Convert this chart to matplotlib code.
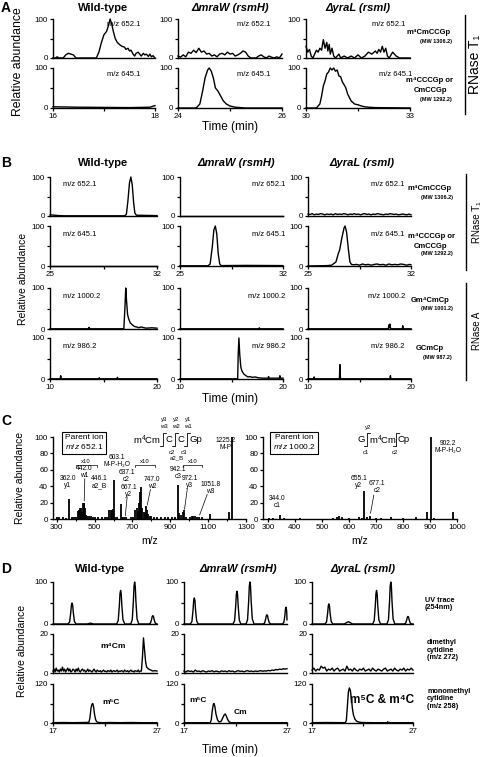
import numpy as np
import matplotlib
matplotlib.use("Agg")
import matplotlib.pyplot as plt
from matplotlib.lines import Line2D

# ---------------- data ----------------
# Panel A, row 1: m/z 652.1
a_wt_652_t = [16.0, 16.05, 16.08, 16.12, 16.2, 16.25, 16.3, 16.35, 16.4, 16.45, 16.85, 16.9, 16.95, 17.0,
              17.05, 17.08, 17.12, 17.15, 17.18, 17.22, 17.26, 17.3, 17.35, 17.4, 17.43, 17.47, 17.5, 17.53,
              17.57, 17.6, 17.63, 17.67, 17.7, 17.73, 17.77, 17.8, 17.83, 17.87, 17.9, 17.93, 17.96, 18.0]
a_wt_652_y = [0, 0, 3, 0, 0, 8, 12, 10, 8, 0, 0, 15, 40, 60, 68, 80, 100, 88, 70, 50, 40, 35, 30, 28, 22,
              25, 18, 20, 10, 5, 12, 15, 10, 5, 12, 8, 10, 4, 10, 3, 6, 0]
a_mra_652_t = [24.0, 24.05, 24.1, 24.15, 24.2, 24.25, 24.3, 24.35, 24.4, 24.45, 24.5, 24.55, 24.6, 24.65,
               24.7, 24.75, 24.8, 24.85, 24.9, 24.95, 25.0, 25.05, 25.1, 25.15, 25.2, 25.25, 25.3, 25.35,
               25.4, 25.5, 25.55, 25.6, 25.65, 25.7, 25.75, 25.8, 25.85, 25.9, 25.95, 26.0]
a_mra_652_y = [5, 2, 8, 3, 15, 12, 20, 14, 25, 15, 18, 10, 12, 5, 8, 3, 10, 12, 8, 15, 10, 12, 5, 8, 12,
               18, 15, 5, 0, 0, 5, 8, 3, 0, 5, 2, 0, 3, 0, 10]
a_yra_652_t = [30.0, 30.05, 30.1, 30.15, 30.2, 30.25, 30.3, 30.35, 30.4, 30.45, 30.5, 30.55, 30.6, 30.63,
               30.67, 30.7, 30.75, 30.8, 30.85, 30.95, 31.0, 31.1, 31.2, 31.3, 31.4, 31.5, 31.6, 31.7,
               31.8, 31.9, 32.0, 32.05, 32.1, 32.15, 32.2, 32.25, 32.3, 32.35, 32.4, 32.5, 32.55, 32.6,
               32.7, 33.0]
a_yra_652_y = [30, 15, 22, 5, 0, 10, 20, 15, 25, 20, 47, 25, 40, 18, 35, 10, 25, 5, 0, 10, 0, 5, 0, 5, 0,
               8, 0, 5, 15, 10, 18, 12, 22, 15, 30, 15, 25, 5, 0, 15, 10, 5, 0, 0]
# Panel A, row 2: m/z 645.1
a_wt_645_t = [16.0, 16.5, 17.0, 17.5, 17.9, 18.0]
a_wt_645_y = [3, 2, 1.5, 1, 2, 6]
a_mra_645_t = [24.0, 24.35, 24.42, 24.47, 24.52, 24.57, 24.6, 24.64, 24.68, 24.72, 24.77, 24.82, 24.87,
               24.93, 25.0, 25.1, 25.3, 26.0]
a_mra_645_y = [0, 0, 10, 40, 75, 95, 100, 92, 75, 50, 42, 30, 18, 10, 5, 2, 0, 0]
a_yra_645_t = [30.0, 30.3, 30.4, 30.45, 30.5, 30.55, 30.6, 30.65, 30.7, 30.75, 30.8, 30.85, 30.9, 30.95,
               31.0, 31.05, 31.1, 31.15, 31.2, 31.3, 31.4, 31.5, 31.6, 31.7, 31.8, 32.0, 33.0]
a_yra_645_y = [0, 0, 10, 30, 55, 68, 85, 90, 100, 95, 100, 92, 95, 80, 78, 65, 58, 50, 35, 18, 10, 8, 5,
               3, 2, 1, 0]

# Panel B (RNase T1 rows: 25-32 min, RNase A rows: 10-20 min)
b_wt_652_t = [25, 25.3, 25.6, 26, 29.9, 30.0, 30.1, 30.2, 30.29, 30.38, 30.47, 30.55, 30.65, 32]
b_wt_652_y = [3, 2, 1, 0.5, 0.5, 5, 40, 85, 100, 80, 35, 8, 2, 1]
b_mra_652_t = [25, 32]
b_mra_652_y = [0.5, 0.5]
b_yra_652_y = [5, 4, 6, 3, 5, 4, 6, 5, 3, 5, 4, 5, 3, 6, 4, 5, 4, 6, 5, 3, 5, 4, 6, 4, 5, 3, 5, 6, 4, 5,
               3, 5, 4, 6, 5, 4, 3, 5, 4, 6, 5, 4, 5, 3, 4, 5, 4, 3, 5, 3]
b_wt_645_t = [25, 32]
b_wt_645_y = [0.5, 0.5]
b_mra_645_t = [25, 26.9, 27.05, 27.2, 27.3, 27.4, 27.5, 27.6, 27.7, 27.8, 29.5, 32]
b_mra_645_y = [0.5, 0.5, 5, 50, 90, 100, 80, 30, 5, 1, 1.5, 1]
b_yra_645_t = [25, 26.3, 26.6, 26.9, 27.05, 27.15, 27.3, 27.45, 27.52, 27.62, 27.75, 27.85, 27.95, 28.1,
               28.3, 28.5, 28.7, 28.9, 29.1, 29.3, 29.5, 29.7, 29.9, 30.1, 30.3, 30.5, 30.7, 30.9, 31.1,
               31.3, 31.5, 31.7, 31.9, 32.0]
b_yra_645_y = [0, 1, 2, 10, 30, 40, 70, 95, 100, 85, 40, 10, 4, 3, 4, 2, 5, 3, 4, 2, 4, 5, 3, 4, 2, 5, 3,
               4, 3, 5, 4, 2, 4, 3]
b_wt_1000_t = [10, 13.6, 13.65, 13.7, 16.9, 17.0, 17.08, 17.15, 17.25, 17.35, 17.5, 17.7, 17.9, 18.1,
               18.3, 18.5, 18.8, 19.0, 19.5, 20.0]
b_wt_1000_y = [0.5, 0.5, 4, 0.5, 0.5, 50, 100, 70, 35, 25, 15, 10, 6, 5, 3, 5, 3, 2, 3, 2]
b_mra_1000_t = [10, 17.65, 17.7, 17.75, 20]
b_mra_1000_y = [0.5, 0.5, 3, 0.5, 0.5]
b_yra_1000_t = [10, 17.8, 17.85, 17.9, 17.95, 18.0, 18.05, 19.15, 19.2, 19.25, 20]
b_yra_1000_y = [0.5, 0.5, 10, 3, 12, 4, 0.5, 0.5, 8, 0.5, 0.5]
b_wt_986_t = [10, 10.95, 11.0, 11.05, 14.55, 14.6, 14.65, 16.25, 16.3, 16.35, 20]
b_wt_986_y = [0.5, 0.5, 8, 0.5, 0.5, 3, 0.5, 0.5, 4, 0.5, 0.5]
b_mra_986_t = [10, 15.6, 15.65, 15.72, 15.8, 15.9, 16.0, 16.2, 16.4, 16.6, 16.8, 17.0, 17.3, 17.6, 18.0,
               18.55, 18.6, 18.65, 19.5, 19.65, 19.7, 19.75, 20]
b_mra_986_y = [0.5, 0.5, 60, 100, 60, 30, 20, 12, 8, 5, 6, 4, 5, 3, 2, 2, 6, 2, 2, 2, 8, 2, 2]
b_yra_986_t = [10, 10.55, 10.6, 10.65, 13.05, 13.1, 13.15, 17.95, 18.0, 18.05, 20]
b_yra_986_y = [0.5, 0.5, 5, 0.5, 0.5, 35, 0.5, 0.5, 8, 0.5, 0.5]

# Panel C, MS/MS spectra
c1_mz = [303, 312, 335, 347, 362, 380, 392, 404, 410, 416,
         422, 428, 434, 440, 443, 446, 450, 456, 462, 470,
         480, 490, 500, 520, 540, 555, 565, 578, 585, 590,
         596, 603, 610, 620, 637, 645, 656, 667, 690, 705,
         716, 722, 728, 735, 740, 747, 752, 760, 766, 772,
         778, 784, 790, 800, 815, 830, 850, 870, 890, 910,
         925, 942, 948, 958, 966, 972, 985, 1003, 1012, 1020,
         1030, 1040, 1051, 1065, 1112, 1210, 1225]
c1_int = [3, 2, 3, 1, 24, 2, 3, 3, 10, 11,
          13, 14, 8, 20, 19, 20, 14, 5, 4, 4,
          4, 3, 2, 2, 3, 2, 3, 11, 11, 11,
          12, 48, 3, 2, 18, 3, 2, 2, 3, 3,
          11, 13, 10, 20, 33, 39, 14, 8, 7, 16,
          11, 6, 4, 4, 3, 2, 3, 2, 2, 2,
          2, 42, 7, 5, 8, 11, 2, 3, 4, 4,
          4, 3, 3, 2, 6, 9, 100]
c2_mz = [305, 320, 344, 360, 420, 540, 555, 562, 575, 600, 636, 648, 655, 668, 677, 700, 720, 756, 800,
         850, 888, 902, 915, 985]
c2_int = [1, 1, 5, 1, 1, 1, 2, 4, 3, 1, 3, 1, 34, 2, 4, 1, 1, 2, 1, 3, 8, 100, 1, 8]

# Panel D, row 1: UV trace (254 nm)
d_wt_uv_t = [17.0, 18.45, 18.6, 18.71, 18.77, 18.83, 18.89, 18.95, 19.06, 19.22, 20.3, 20.5, 20.6, 20.7,
             20.9, 23.12, 23.27, 23.38, 23.44, 23.5, 23.56, 23.62, 23.73, 23.9, 24.47, 24.62, 24.73, 24.79,
             24.85, 24.91, 24.97, 25.08, 25.25, 26.22, 26.37, 26.48, 26.54, 26.6, 26.66, 26.72, 26.83,
             26.98, 27.0]
d_wt_uv_y = [0, 0, 5, 28, 45, 50, 45, 28, 6, 0, 0, 1.5, 2, 1.5, 0, 0, 8, 44, 72, 80, 72, 44, 10, 0, 0, 10,
             55, 90, 100, 90, 55, 12, 0, 0, 2, 11, 18, 20, 18, 11, 2, 0, 0]
d_mra_uv_t = [17.0, 17.62, 17.77, 17.88, 17.94, 18.0, 18.06, 18.12, 18.23, 18.38, 21.76, 21.91, 22.02,
              22.08, 22.14, 22.2, 22.26, 22.37, 22.52, 23.02, 23.17, 23.28, 23.34, 23.4, 23.46, 23.52,
              23.63, 23.8, 24.67, 24.82, 24.93, 24.99, 25.05, 25.11, 25.17, 25.28, 25.43, 26.55, 26.7,
              26.8, 26.85, 26.92, 26.97, 27.0]
d_mra_uv_y = [0, 0, 6, 34, 56, 62, 56, 34, 7, 0, 0, 8, 43, 70, 78, 70, 43, 9, 0, 0, 10, 55, 90, 100, 90,
              55, 12, 0, 0, 2, 12, 20, 22, 20, 12, 3, 0, 0, 4, 22, 36, 40, 30, 10]
d_yra_uv_t = [17.0, 18.29, 18.44, 18.55, 18.61, 18.67, 18.73, 18.79, 18.9, 19.06, 20.2, 20.4, 20.55,
              20.65, 20.8, 21.0, 23.01, 23.16, 23.27, 23.33, 23.39, 23.45, 23.51, 23.62, 23.78, 24.42,
              24.57, 24.68, 24.74, 24.8, 24.86, 24.92, 25.03, 25.2, 26.12, 26.27, 26.38, 26.44, 26.5,
              26.56, 26.62, 26.73, 26.88, 27.0]
d_yra_uv_y = [0, 0, 5, 26, 43, 48, 43, 26, 6, 0, 0, 3, 5, 5, 3, 0, 0, 8, 44, 72, 80, 72, 44, 10, 0, 0, 10,
              55, 90, 100, 90, 55, 12, 0, 0, 2, 10, 16, 18, 16, 10, 2, 0, 0]
# Panel D, row 2: dimethyl cytidine (m/z 272), noisy baselines sampled evenly
d_wt_272_noise = [1, 2, 0.5, 2.5, 1, 1.5, 0.5, 2, 1, 3, 1, 2, 0.5, 1.5, 2.5, 1, 2, 0.5, 1, 2, 1.5, 0.5, 2,
                  1, 2.5, 1, 0.5, 1.5, 2, 1, 1.5, 0.5, 1, 2, 0.8, 1.5, 1, 0.5, 1.2, 2, 1, 0.5, 1.5, 1,
                  0.8, 1.2, 0.5, 1, 1.5, 0.8, 1, 0.5, 1.2, 1, 0.8, 1.5, 0.5, 1, 1.2, 0.8, 1, 1.5, 0.5, 1,
                  0.8, 1.2, 1, 0.5, 1.5, 1, 0.8, 1.2, 0.5, 1, 1.5, 0.8, 1, 0.5, 1.2, 1, 0.8, 1.5, 0.5, 1]
d_wt_272_peak_t = [25.5, 25.6, 25.7, 25.8, 25.9, 26.0, 26.2, 26.4, 26.6, 26.8, 27.0]
d_wt_272_peak_y = [1, 8, 18, 12, 6, 3, 2, 1.5, 1, 1.2, 1]
d_mra_272_y = [1, 0.5, 1.2, 0.8, 1, 0.5, 1.5, 0.8, 1, 0.6, 1.2, 0.8, 0.5, 1, 0.8, 1.2, 0.6, 1, 0.8, 0.5,
               1.1, 0.8, 1, 0.6, 1.2, 0.8, 1, 0.5, 0.9, 1.2, 0.8, 1, 0.6, 1, 1.2, 0.8, 1, 0.7, 1, 0.8,
               1, 1.2, 0.9, 1.1, 1, 1.3, 1.1, 1.5, 1.3, 1.8, 1.6, 2, 1.8, 2.2, 2, 2.2]
d_yra_272_y = [1.5, 2.5, 1, 2, 1.5, 3.5, 2.5, 3, 1, 2, 1.5, 2.5, 1, 2, 2.5, 1, 1.5, 2, 1, 3.5, 1.5, 2, 1,
               2.5, 1.5, 1, 2, 1.5, 2.5, 1, 1.5, 2, 1, 2.5, 1.5, 1, 2, 1.5, 1, 2, 2.5, 1, 1.5, 2, 1,
               2.5, 1.5, 1, 2, 1.5, 2.5, 1, 2, 1.5, 2.5, 1.5]
# Panel D, row 3: monomethyl cytidine (m/z 258)
d_wt_258_t = [17.0, 18.0, 19.0, 20.0, 20.45, 20.55, 20.65, 20.75, 20.82, 20.9, 21.0, 21.1, 21.2, 21.35,
              21.6, 22.5, 23.5, 24.5, 25.5, 27.0]
d_wt_258_y = [1, 1.5, 1, 1.5, 2, 15, 45, 58, 60, 50, 25, 10, 4, 2, 1, 1.5, 1, 1.5, 1, 1]
d_mra_258_t = [17.0, 18.5, 19.55, 19.65, 19.75, 19.85, 19.92, 20.0, 20.1, 20.25, 20.4, 20.6, 20.75, 20.9,
               21.0, 21.1, 21.25, 21.4, 21.6, 23.0, 25.0, 27.0]
d_mra_258_y = [1, 1, 1, 10, 40, 58, 60, 50, 28, 10, 3, 5, 15, 25, 28, 22, 10, 3, 1, 1, 1, 1]
d_yra_258_t = [17.0, 18.5, 20.3, 20.4, 20.5, 20.6, 20.7, 20.8, 20.9, 21.0, 21.1, 21.25, 21.4, 21.6, 21.8,
               22.0, 23.0, 24.45, 24.5, 24.55, 25.5, 27.0]
d_yra_258_y = [1, 1.5, 1, 8, 50, 95, 108, 100, 75, 45, 25, 12, 6, 3, 2, 1.5, 1, 1, 4, 1, 1, 1]

strains = ["Wild-type", "\u0394mraW (rsmH)", "\u0394yraL (rsmI)"]

# ---------------- layout helpers (pixel coordinates) ----------------
W, H = 484, 757
plt.rcParams["font.family"] = ["Liberation Sans", "DejaVu Sans"]
plt.rcParams["mathtext.fontset"] = "custom"
plt.rcParams["mathtext.it"] = "Liberation Sans:italic"
plt.rcParams["mathtext.rm"] = "Liberation Sans"

fig = plt.figure(figsize=(W / 100, H / 100), dpi=100)

TICK = 5.8
MZ = 5.5
TITLE = 8
RLAB = 5.5
RMW = 4


def ftext(x, y, s, **kw):
    kw.setdefault("ha", "center")
    kw.setdefault("va", "center")
    fig.text(x / W, 1 - y / H, s, **kw)


def fline(xs, ys, lw=1.0):
    fig.add_artist(Line2D([x / W for x in xs], [1 - y / H for y in ys], color="k", lw=lw))


def mkax(box, xlim, ylim, xt, xtl, yt, ytl):
    x0, y0, x1, y1 = box
    ax = fig.add_axes([x0 / W, 1 - y1 / H, (x1 - x0) / W, (y1 - y0) / H])
    ax.set_xlim(xlim)
    ax.set_ylim(ylim)
    ax.patch.set_visible(False)
    for s in ["top", "right"]:
        ax.spines[s].set_visible(False)
    for s in ["left", "bottom"]:
        ax.spines[s].set_linewidth(1.0)
    ax.set_xticks(xt)
    ax.set_xticklabels(xtl)
    ax.set_yticks(yt)
    ax.set_yticklabels(ytl)
    ax.tick_params(labelsize=TICK, length=2.5, width=0.9, pad=1)
    return ax


def trace(ax, t, y):
    ax.plot(t, y, color="k", lw=1.0, clip_on=False)


def title(x, y, s, c):
    ftext(x, y, s, fontsize=TITLE, weight="bold", style="normal" if c == 0 else "italic")


# ---------------- Panel A ----------------
ftext(6, 8, "A", fontsize=10, weight="bold")
a_cols = [(53, 155), (178, 282), (306, 410)]
a_rows = [(19, 58), (68, 108)]
a_xlims = [(16, 18), (24, 26), (30, 33)]
a_xt = [[16, 17, 18], [24, 25, 26], [30, 31.5, 33]]
a_xtl = [["16", "", "18"], ["24", "", "26"], ["30", "", "33"]]
a_data = [
    [(a_wt_652_t, a_wt_652_y), (a_mra_652_t, a_mra_652_y), (a_yra_652_t, a_yra_652_y)],
    [(a_wt_645_t, a_wt_645_y), (a_mra_645_t, a_mra_645_y), (a_yra_645_t, a_yra_645_y)],
]
a_title_x = [103, 230, 358]
a_lab_x = [0.86, 0.89, 0.96]
for c, (x0, x1) in enumerate(a_cols):
    title(a_title_x[c], 8, strains[c], c)
    for r, (y0, y1) in enumerate(a_rows):
        last = r == 1
        ax = mkax((x0, y0, x1, y1), a_xlims[c], (0, 100),
                  a_xt[c] if last else [], a_xtl[c] if last else [],
                  [0, 50, 100], ["0", "", "100"])
        t, y = a_data[r][c]
        trace(ax, t, y)
        ax.text(a_lab_x[c] if not (r == 1 and c == 2) else 1.02, 0.85,
                "m/z 652.1" if r == 0 else "m/z 645.1",
                transform=ax.transAxes, ha="right", va="center", fontsize=MZ)
ftext(230, 127, "Time (min)", fontsize=8.5)
ftext(18, 62, "Relative abundance", fontsize=8.8, rotation=90)
ftext(429, 32, "m\u2074CmCCGp", fontsize=RLAB, weight="bold")
ftext(436, 42, "(MW 1306.2)", fontsize=RMW, weight="bold")
ftext(430, 81, "m\u2074CCCGp or", fontsize=RLAB, weight="bold")
ftext(430, 90, "CmCCGp", fontsize=RLAB, weight="bold")
ftext(436, 99, "(MW 1292.2)", fontsize=RMW, weight="bold")
fline([465, 465], [15, 114])
ftext(475, 64, "RNase T\u2081", fontsize=10, rotation=90)

# ---------------- Panel B ----------------
ftext(6, 163, "B", fontsize=10, weight="bold")
b_cols = [(50, 157), (180, 283), (308, 411)]
b_rows = [(177, 216), (226, 266), (288, 329), (338, 379)]
b_title_x = [103, 236, 362]
b_yra_652_t = np.linspace(25, 32, len(b_yra_652_y))
b_data = [
    [(b_wt_652_t, b_wt_652_y), (b_mra_652_t, b_mra_652_y), (b_yra_652_t, b_yra_652_y)],
    [(b_wt_645_t, b_wt_645_y), (b_mra_645_t, b_mra_645_y), (b_yra_645_t, b_yra_645_y)],
    [(b_wt_1000_t, b_wt_1000_y), (b_mra_1000_t, b_mra_1000_y), (b_yra_1000_t, b_yra_1000_y)],
    [(b_wt_986_t, b_wt_986_y), (b_mra_986_t, b_mra_986_y), (b_yra_986_t, b_yra_986_y)],
]
b_mz = ["m/z 652.1", "m/z 645.1", "m/z 1000.2", "m/z 986.2"]
for c, (x0, x1) in enumerate(b_cols):
    title(b_title_x[c], 163, strains[c], c)
    for r, (y0, y1) in enumerate(b_rows):
        if r < 2:
            xl, xt, xtl = (25, 32), [25, 28.5, 32], ["25", "", "32"]
        else:
            xl, xt, xtl = (10, 20), [10, 15, 20], ["10", "", "20"]
        show = r in (1, 3)
        ax = mkax((x0, y0, x1, y1), xl, (0, 100), xt, xtl if show else ["", "", ""],
                  [0, 50, 100], ["0", "", "100"])
        if not show:
            ax.tick_params(axis="x", length=0)
        t, y = b_data[r][c]
        trace(ax, t, y)
        if c == 0:
            ax.text(0.12, 0.8, b_mz[r], transform=ax.transAxes, ha="left", va="center", fontsize=MZ)
        elif c == 1:
            ax.text(1.02, 0.8, b_mz[r], transform=ax.transAxes, ha="right", va="center", fontsize=MZ)
        else:
            ax.text(0.94, 0.8, b_mz[r], transform=ax.transAxes, ha="right", va="center", fontsize=MZ)
ftext(230, 399, "Time (min)", fontsize=8.5)
ftext(23, 279, "Relative abundance", fontsize=7.5, rotation=90)
ftext(430, 189, "m\u2074CmCCGp", fontsize=RLAB, weight="bold")
ftext(437, 198, "(MW 1306.2)", fontsize=RMW, weight="bold")
ftext(431, 237, "m\u2074CCCGp or", fontsize=RLAB, weight="bold")
ftext(431, 246, "CmCCGp", fontsize=RLAB, weight="bold")
ftext(437, 254, "(MW 1292.2)", fontsize=RMW, weight="bold")
ftext(430, 300, "Gm\u2074CmCp", fontsize=RLAB, weight="bold")
ftext(437, 309, "(MW 1001.2)", fontsize=RMW, weight="bold")
ftext(430, 349, "GCmCp", fontsize=RLAB, weight="bold")
ftext(437, 358, "(MW 987.2)", fontsize=RMW, weight="bold")
fline([466, 466], [174, 270])
fline([466, 466], [283, 380])
ftext(477, 222, "RNase T\u2081", fontsize=7, rotation=90)
ftext(477, 331, "RNase A", fontsize=7, rotation=90)

# ---------------- Panel C ----------------
ftext(6, 421, "C", fontsize=10, weight="bold")
fs = 4.8
SEQ = 6.8
axc = mkax((53, 437, 246, 519), (280, 1300), (0, 100),
           [300, 500, 700, 900, 1100, 1300], ["300", "500", "700", "900", "1100", "1300"],
           [0, 20, 40, 60, 80, 100], ["0", "20", "40", "60", "80", "100"])
axc.set_xticks([400, 600, 800, 1000, 1200], minor=True)
axc.tick_params(which="minor", length=1.5, width=0.8)
axc.vlines(c1_mz, 0, c1_int, color="k", lw=1.3)
axc.set_xlabel("m/z", fontsize=7.5, labelpad=4)
axc.text(444, 93, "Parent ion\n$m/z$ 652.1", ha="center", va="center", fontsize=6,
         bbox=dict(boxstyle="square,pad=0.3", fc="white", ec="k", lw=0.8))
for x, y, s in [(1190, 91, "1225.2\nM-P"), (618, 71, "603.1\nM-P-H\u2082O"), (444, 57, "442.0\nw1"),
                (359, 45, "362.0\ny1"), (525, 45, "446.1\na2_B"), (668, 52, "637.1\nc2"),
                (680, 34, "667.1\ny2"), (803, 44, "747.0\nw2"), (940, 56, "942.1\nc3"),
                (1003, 45, "972.1\ny3"), (1112, 38, "1051.8\nw3")]:
    axc.text(x, y, s, ha="center", va="center", fontsize=fs, linespacing=1.0)
for x0, x1 in [(400, 510), (715, 820), (965, 1070)]:
    axc.plot([x0, x0, x1, x1], [63, 66, 66, 63], color="k", lw=0.5)
    axc.text((x0 + x1) / 2, 70.5, "x10", ha="center", va="center", fontsize=4.2)
for (xa, ya), (xb, yb) in [((448, 49), (445, 22)), ((672, 27), (662, 4)), ((795, 36), (778, 17)),
                           ((990, 37), (975, 12)), ((1095, 30), (1055, 5))]:
    axc.plot([xa, xb], [ya, yb], color="k", lw=0.5)
# sequence m4Cm|C|C|Gp with cleavage brackets
ftext(161, 440, "m$^4$Cm", fontsize=SEQ, ha="right")
ftext(169, 440, "C", fontsize=SEQ)
ftext(181, 440, "C", fontsize=SEQ)
ftext(189, 440, "Gp", fontsize=SEQ, ha="left")
for xs in [163, 175, 187]:
    fline([xs - 3, xs, xs, xs + 3], [446, 446, 433, 433], lw=0.6)
for xs, s in [(163, "y3"), (175, "y2"), (187, "y1")]:
    ftext(xs + 1, 420, s, fontsize=4.3)
for xs, s in [(163, "w3"), (175, "w2"), (187, "w1")]:
    ftext(xs + 1, 426, s, fontsize=4.3)
ftext(172, 452, "c2", fontsize=4.3)
ftext(184, 452, "c3", fontsize=4.3)
ftext(177, 458, "a2_B", fontsize=4.3)
ftext(20, 478, "Relative abundance", fontsize=7.5, rotation=90)

axd = mkax((263, 437, 457, 519), (282, 1000), (0, 100),
           [300, 400, 500, 600, 700, 800, 900, 1000],
           ["300", "400", "500", "600", "700", "800", "900", "1000"],
           [0, 20, 40, 60, 80, 100], ["0", "20", "40", "60", "80", "100"])
axd.vlines(c2_mz, 0, c2_int, color="k", lw=1.3)
axd.set_xlabel("m/z", fontsize=7.5, labelpad=4)
axd.text(397, 93, "Parent ion\n$m/z$ 1000.2", ha="center", va="center", fontsize=6,
         bbox=dict(boxstyle="square,pad=0.3", fc="white", ec="k", lw=0.8))
for x, y, s in [(968, 88, "902.2\nM-P-H\u2082O"), (637, 45, "655.1\ny2"), (703, 39, "677.1\nc2"),
                (334, 21, "344.0\nc1")]:
    axd.text(x, y, s, ha="center", va="center", fontsize=fs, linespacing=1.0)
axd.plot([692, 680], [29, 7], color="k", lw=0.5)
ftext(365, 440, "G", fontsize=SEQ, ha="right")
ftext(369, 440, "m$^4$Cm", fontsize=SEQ, ha="left")
ftext(398, 440, "Cp", fontsize=SEQ, ha="left")
for xs in [367, 396]:
    fline([xs - 3, xs, xs, xs + 3], [446, 446, 433, 433], lw=0.6)
ftext(368, 427, "y2", fontsize=4.3)
ftext(366, 452, "c1", fontsize=4.3)
ftext(395, 452, "c2", fontsize=4.3)

# ---------------- Panel D ----------------
ftext(6, 569, "D", fontsize=10, weight="bold")
d_cols = [(53, 157), (184, 287), (312, 413)]
d_rows = [(582, 624), (634, 673), (684, 723)]
d_title_x = [100, 238, 363]
d_wt_272_t = np.concatenate([np.linspace(17, 25.4, len(d_wt_272_noise)), d_wt_272_peak_t])
d_wt_272_y = d_wt_272_noise + d_wt_272_peak_y
d_mra_272_t = np.linspace(17, 27, len(d_mra_272_y))
d_yra_272_t = np.linspace(17, 27, len(d_yra_272_y))
d_data = [
    [(d_wt_uv_t, d_wt_uv_y), (d_mra_uv_t, d_mra_uv_y), (d_yra_uv_t, d_yra_uv_y)],
    [(d_wt_272_t, d_wt_272_y), (d_mra_272_t, d_mra_272_y), (d_yra_272_t, d_yra_272_y)],
    [(d_wt_258_t, d_wt_258_y), (d_mra_258_t, d_mra_258_y), (d_yra_258_t, d_yra_258_y)],
]
d_ylims = [(0, 100), (0, 20), (0, 120)]
d_yt = [[0, 50, 100], [0, 10, 20], [0, 60, 120]]
d_ytl = [["0", "", "100"], ["0", "", "20"], ["0", "", "120"]]
for c, (x0, x1) in enumerate(d_cols):
    title(d_title_x[c], 569, strains[c], c)
    for r, (y0, y1) in enumerate(d_rows):
        last = r == 2
        ax = mkax((x0, y0, x1, y1), (17, 27), d_ylims[r],
                  [17, 22, 27] if last else [], ["17", "", "27"] if last else [],
                  d_yt[r], d_ytl[r])
        t, y = d_data[r][c]
        trace(ax, t, y)
ftext(230, 750, "Time (min)", fontsize=8.5)
ftext(22, 651, "Relative abundance", fontsize=7.5, rotation=90)
ftext(113, 647, "m\u2074Cm", fontsize=6, weight="bold")
ftext(111, 703, "m\u2075C", fontsize=6, weight="bold")
ftext(198, 701, "m\u2075C", fontsize=6, weight="bold")
ftext(240, 713, "Cm", fontsize=6, weight="bold")
ftext(382, 700, "m\u2075C & m\u2074C", fontsize=8.5, weight="bold")
ftext(425, 604, "UV trace\n(254nm)", fontsize=5.2, weight="bold", ha="left", linespacing=1.1)
ftext(427, 650, "dimethyl\ncytidine\n(m/z 272)", fontsize=5.2, weight="bold", ha="left", linespacing=1.1)
ftext(427, 699, "monomethyl\ncytidine\n(m/z 258)", fontsize=5.2, weight="bold", ha="left", linespacing=1.1)

fig.savefig("out.png", dpi=100)
